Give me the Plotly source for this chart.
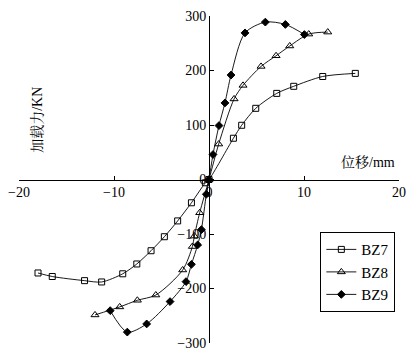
import plotly.graph_objects as go

bz7_x = [-18.0, -16.5, -13.1, -11.3, -9.08, -7.6, -6.1, -4.7, -3.3, -1.85, -0.38, 0, 2.57, 3.44, 4.92, 7.13, 8.92, 11.97, 15.4]
bz7_y = [-171.5, -178, -185.6, -188, -173, -155, -130.7, -105, -76, -42.7, -6, 0, 75.7, 99.5, 130.6, 158, 171, 189, 194.7]

bz8_x = [-12.0, -9.4, -7.54, -5.6, -2.77, -1.75, -1.54, -0.98, 0, 1.02, 2.64, 3.58, 5.48, 7.06, 8.5, 10.5, 12.5]
bz8_y = [-248.5, -233.8, -221.6, -212, -166, -123, -103.8, -61, 0, 65, 147.8, 172.7, 207.5, 227, 245, 266.8, 270.5]

bz9_x = [-10.4, -8.6, -6.56, -4.1, -2.42, -1.85, -1.19, -0.8, -0.28, 0, 0.42, 1.05, 1.68, 2.32, 3.79, 5.93, 8.04, 10.04]
bz9_y = [-240.6, -280, -265, -224, -187.4, -155.7, -120, -92, -27, 0, 45.8, 98.9, 140.5, 191.7, 269, 288.8, 284.5, 266]

x_ticks = [-20, -10, 0, 10, 20]
y_ticks = [-300, -200, -100, 0, 100, 200, 300]

FONT = "Liberation Serif, Noto Serif CJK SC, Noto Sans CJK SC, serif"

fig = go.Figure()
series = [
    ("BZ7", bz7_x, bz7_y, "square-open", 6),
    ("BZ8", bz8_x, bz8_y, "triangle-up-open", 7),
    ("BZ9", bz9_x, bz9_y, "diamond", 6),
]
for name, xs, ys, sym, sz in series:
    fig.add_trace(go.Scatter(
        x=xs, y=ys, name=name, mode="lines+markers",
        line=dict(color="black", width=0.9, shape="spline", smoothing=0.8),
        marker=dict(symbol=sym, size=sz, color="black", line=dict(color="black", width=1)),
    ))

fig.update_layout(
    width=419, height=360,
    margin=dict(l=19, r=20, t=16, b=17, autoexpand=False),
    paper_bgcolor="white", plot_bgcolor="white",
    font=dict(family=FONT, size=14, color="black"),
    showlegend=True,
    legend=dict(
        x=0.793, y=0.339, xanchor="left", yanchor="top",
        bordercolor="black", borderwidth=1, bgcolor="white",
        font=dict(size=15, family=FONT), itemwidth=30, tracegroupgap=2,
    ),
    xaxis=dict(
        range=[-20, 20], tickvals=x_ticks, ticktext=[str(v).replace("-", "−") for v in x_ticks],
        anchor="free", position=0.5, showline=True, linecolor="black", linewidth=1,
        ticks="inside", ticklen=4, tickcolor="black", showgrid=False, zeroline=False,
        tickfont=dict(size=14), automargin=False,
    ),
    yaxis=dict(
        range=[-300, 300], tickvals=y_ticks, ticktext=[str(v).replace("-", "−") for v in y_ticks],
        anchor="free", position=0.5, showline=True, linecolor="black", linewidth=1,
        ticks="inside", ticklen=4, tickcolor="black", showgrid=False, zeroline=False,
        tickfont=dict(size=14), automargin=False,
    ),
    annotations=[
        dict(text="加载力/KN", xref="paper", yref="paper", x=0.047, y=0.682,
             xanchor="center", yanchor="middle",
             textangle=-90, showarrow=False, font=dict(size=14, family=FONT)),
        dict(text="位移/mm", xref="paper", yref="paper", x=0.918, y=0.551,
             xanchor="center", yanchor="middle",
             showarrow=False, font=dict(size=14, family=FONT)),
    ],
)

fig.write_html("out.html", config={"displayModeBar": False},
               post_script="document.body.style.margin='0';")
